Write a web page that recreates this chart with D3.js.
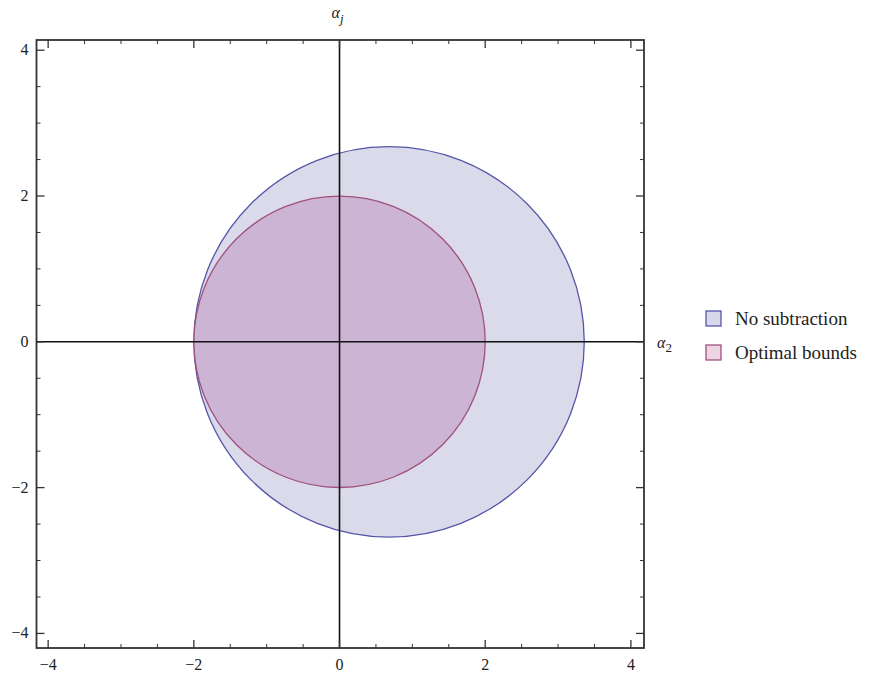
<!DOCTYPE html>
<html lang="en">
<head>
<meta charset="utf-8">
<title>Bounds regions</title>
<script src="https://d3js.org/d3.v7.min.js"></script>
<style>
  body { margin: 0; background: #fff; }
  svg text { font-family: "Liberation Serif", "DejaVu Serif", serif; fill: #222; }
</style>
</head>
<body>
<div id="chart"></div>
<script>
// regions: center (cx, cy) and radius, in data units
var regionNames = ["No subtraction", "Optimal bounds"];
var regionCx = [0.68, 0];
var regionCy = [0, 0];
var regionR = [2.68, 2];
var regionFill = ["#dadaeb", "#ccb4d4"];
var regionStroke = ["#5656a8", "#a0507e"];

var majorTicks = [-4, -2, 0, 2, 4];
var minorTicks = d3.range(-4, 4.01, 0.5).filter(function(d){ return d % 2 !== 0; });

var width = 882, height = 675;
var box = {left: 36.5, right: 644, top: 40, bottom: 648};

var svg = d3.select("#chart").append("svg")
    .attr("width", width)
    .attr("height", height);

var x = d3.scaleLinear().domain([-4.16, 4.18]).range([box.left, box.right]);
var y = d3.scaleLinear().domain([-4.2, 4.14]).range([box.bottom, box.top]);
var unit = x(1) - x(0);

// regions
var g = svg.append("g");
regionNames.forEach(function(name, i) {
  g.append("circle")
    .attr("cx", x(regionCx[i]))
    .attr("cy", y(regionCy[i]))
    .attr("r", regionR[i] * unit)
    .style("fill", regionFill[i])
    .style("stroke", regionStroke[i])
    .style("stroke-width", 1.3);
});

// axes through origin
svg.append("line")
  .attr("x1", box.left).attr("x2", box.right)
  .attr("y1", y(0)).attr("y2", y(0))
  .style("stroke", "#111").style("stroke-width", 1.6);
svg.append("line")
  .attr("x1", x(0)).attr("x2", x(0))
  .attr("y1", box.top).attr("y2", box.bottom)
  .style("stroke", "#111").style("stroke-width", 1.6);

// frame
svg.append("rect")
  .attr("x", box.left).attr("y", box.top)
  .attr("width", box.right - box.left).attr("height", box.bottom - box.top)
  .style("fill", "none").style("stroke", "#333").style("stroke-width", 1.8);

// ticks on all four sides, pointing inward
function tick(sel, big) {
  return sel.style("stroke", "#333").style("stroke-width", big ? 1.3 : 1);
}
var ticks = svg.append("g");
majorTicks.concat(minorTicks).forEach(function(v) {
  var big = majorTicks.indexOf(v) >= 0;
  var len = big ? 8 : 4;
  tick(ticks.append("line").attr("x1", x(v)).attr("x2", x(v)).attr("y1", box.bottom).attr("y2", box.bottom - len), big);
  tick(ticks.append("line").attr("x1", x(v)).attr("x2", x(v)).attr("y1", box.top).attr("y2", box.top + len), big);
  tick(ticks.append("line").attr("y1", y(v)).attr("y2", y(v)).attr("x1", box.left).attr("x2", box.left + len), big);
  tick(ticks.append("line").attr("y1", y(v)).attr("y2", y(v)).attr("x1", box.right).attr("x2", box.right - len), big);
});

function fmt(v) { return v < 0 ? "\u2212" + Math.abs(v) : String(v); }

svg.append("g").selectAll("text.xt")
  .data(majorTicks).enter().append("text")
  .attr("x", function(d){ return x(d); })
  .attr("y", box.bottom + 22)
  .attr("text-anchor", "middle")
  .style("font-size", "16px")
  .text(fmt);

svg.append("g").selectAll("text.yt")
  .data(majorTicks).enter().append("text")
  .attr("x", box.left - 8)
  .attr("y", function(d){ return y(d) + 5; })
  .attr("text-anchor", "end")
  .style("font-size", "16px")
  .text(fmt);

// axis labels
var xl = svg.append("text")
  .attr("x", box.right + 13).attr("y", y(0) + 6)
  .style("font-size", "16px").style("font-style", "italic");
xl.append("tspan").text("\u03B1");
xl.append("tspan").attr("dy", 4).style("font-size", "13px").style("font-style", "normal").text("2");

var yl = svg.append("text")
  .attr("x", x(0) - 8).attr("y", 18)
  .style("font-size", "16px").style("font-style", "italic");
yl.append("tspan").text("\u03B1");
yl.append("tspan").attr("dy", 5).style("font-size", "13px").text("j");

// legend
var legend = svg.append("g").attr("transform", "translate(706,311)");
regionNames.forEach(function(name, i) {
  var row = legend.append("g").attr("transform", "translate(0," + (i * 34) + ")");
  row.append("rect")
    .attr("width", 15).attr("height", 15)
    .style("fill", i === 0 ? "#d8d8ec" : "#ecd4e0")
    .style("stroke", regionStroke[i]).style("stroke-width", 1.3);
  row.append("text")
    .attr("x", 29).attr("y", 14)
    .style("font-size", "19px")
    .text(name);
});
</script>
</body>
</html>
